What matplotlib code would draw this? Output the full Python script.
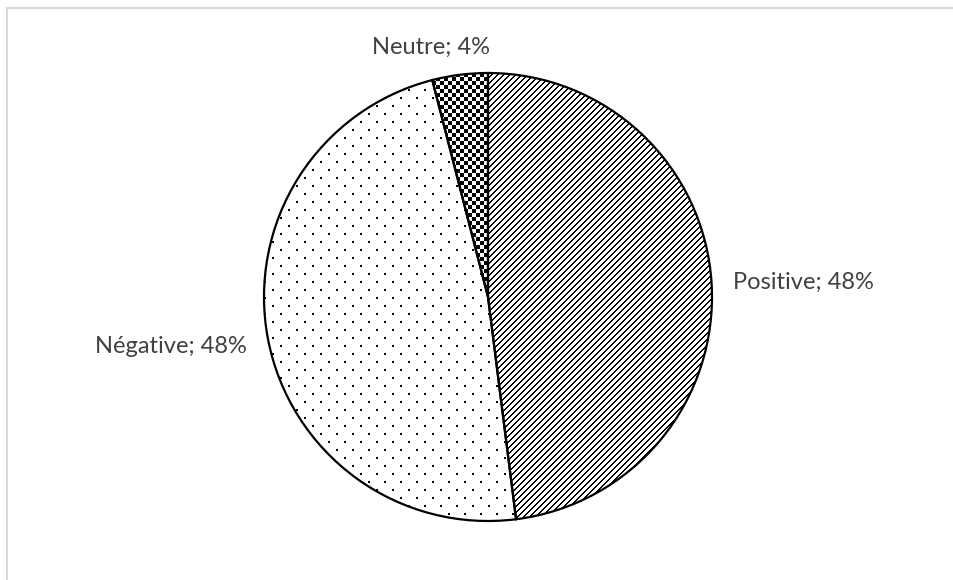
import numpy as np
import matplotlib
matplotlib.use("Agg")
import matplotlib.pyplot as plt
from matplotlib.patches import Rectangle

# Sentiment shares
categories = ["Positive", "Négative", "Neutre"]
shares = [48, 48, 4]

plt.rcParams["font.family"] = ["Lato", "DejaVu Sans"]

W, H = 954, 580
fig = plt.figure(figsize=(W / 100, H / 100), dpi=100)
fig.patch.set_facecolor("white")

# Square axes holding the pie (unit radius)
cx, cy, r = 488, 297, 224
ax = fig.add_axes([(cx - r) / W, (H - cy - r) / H, 2 * r / W, 2 * r / H])

wedges, _ = ax.pie(
    shares,
    startangle=90,
    counterclock=False,
    colors=["none", "none", "none"],
    wedgeprops=dict(edgecolor="black", linewidth=1.6),
    radius=1,
)
for w in wedges:
    w.set_zorder(2)

# Fill textures, one per slice, each clipped to its wedge
n = 2 * r
rr, cc = np.mgrid[0:n, 0:n]
diag = (rr + cc) % 6 < 2
dots = ((rr % 16 < 2) & (cc % 16 < 2)) | ((rr % 16 >= 8) & (rr % 16 < 10) & (cc % 16 >= 8) & (cc % 16 < 10))
checker = ((rr // 4 + cc // 4) % 2) == 0
textures = [diag, dots, checker]

for wedge, tex in zip(wedges, textures):
    img = ax.imshow(np.where(tex, 0.0, 1.0), cmap="gray", vmin=0, vmax=1,
                    extent=(-1, 1, -1, 1), interpolation="nearest", zorder=1)
    img.set_clip_path(wedge)

ax.set_xlim(-1, 1)
ax.set_ylim(-1, 1)
ax.axis("off")

# Slice labels
label_pos = {
    "Positive": (1.094, 0.067, "left"),
    "Négative": (-1.076, -0.219, "right"),
    "Neutre": (-0.254, 1.116, "center"),
}
for cat, val in zip(categories, shares):
    x, y, ha = label_pos[cat]
    ax.text(x, y, f"{cat}; {val}%", ha=ha, va="center", fontsize=17,
            color="#404040", clip_on=False)

# Light frame around the chart area
fig.add_artist(Rectangle((7.5 / W, -0.1), 2, 1 - 7.5 / H + 0.1,
                         transform=fig.transFigure, fill=False,
                         edgecolor="#d9d9d9", linewidth=1.5))

fig.savefig("out.png", dpi=100, facecolor="white")
